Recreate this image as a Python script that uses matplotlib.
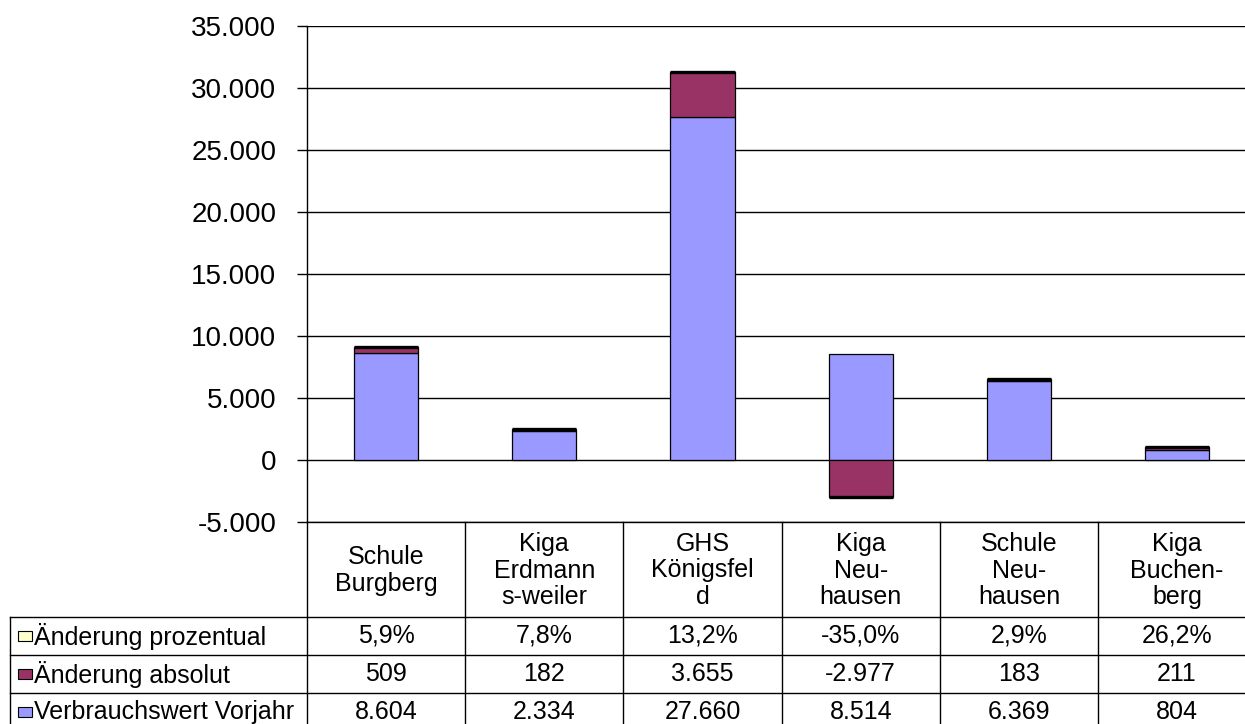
"""Verbrauch je Gebäude mit Datentabelle"""
import matplotlib
matplotlib.use("Agg")
import matplotlib.pyplot as plt
from matplotlib.patches import Rectangle
from matplotlib.ticker import FuncFormatter, MultipleLocator

plt.rcParams['font.family'] = ['Liberation Sans', 'DejaVu Sans']

categories = ["Schule\nBurgberg", "Kiga\nErdmann\ns-weiler", "GHS\nKönigsfel\nd",
              "Kiga\nNeu-\nhausen", "Schule\nNeu-\nhausen", "Kiga\nBuchen-\nberg"]
vorjahr = [8604, 2334, 27660, 8514, 6369, 804]
aenderung_abs = [509, 182, 3655, -2977, 183, 211]
aenderung_pct = [5.9, 7.8, 13.2, -35.0, 2.9, 26.2]

series_names = ["Änderung prozentual", "Änderung absolut", "Verbrauchswert Vorjahr"]
series_colors = ["#FFFFCC", "#993366", "#9999FF"]

W, H = 1245, 724
PLOT_L, PLOT_T, PLOT_B = 307, 26, 522
COL_W = 158.2
LEG_L = 10
ROW_Y = [617, 655, 693, 731]
FS = 18


def de_num(v):
    return f"{v:,.0f}".replace(",", ".")


def de_pct(v):
    return f"{v:.1f}%".replace(".", ",")


def main():
    fig = plt.figure(figsize=(W / 100, H / 100), dpi=100)

    # pixel-coordinate axes for the data table
    tab = fig.add_axes([0, 0, 1, 1])
    tab.set_xlim(0, W)
    tab.set_ylim(H, 0)
    tab.axis("off")

    ax = fig.add_axes([PLOT_L / W, 1 - PLOT_B / H,
                       6 * COL_W / W, (PLOT_B - PLOT_T) / H])
    ax.set_facecolor("none")

    xs = range(len(categories))
    # Excel-style stacking: positives upward, negatives downward
    pos = [0.0] * len(categories)
    neg = [0.0] * len(categories)
    stack = [(vorjahr, series_colors[2], 0.9),
             (aenderung_abs, series_colors[1], 0.9),
             ([p / 100 for p in aenderung_pct], series_colors[0], 2.4)]
    for vals, col, lw in stack:
        bottoms = []
        for i, v in enumerate(vals):
            if v >= 0:
                bottoms.append(pos[i])
                pos[i] += v
            else:
                bottoms.append(neg[i])
                neg[i] += v
        ax.bar(xs, vals, 0.405, bottom=bottoms, color=col,
               edgecolor="black", linewidth=lw, zorder=3)

    ax.set_xlim(-0.5, 5.5)
    ax.set_ylim(-5000, 35000)
    ax.yaxis.set_major_locator(MultipleLocator(5000))
    ax.yaxis.set_major_formatter(FuncFormatter(lambda v, _: de_num(v)))
    ax.grid(axis="y", color="black", linewidth=1.0, zorder=1)
    ax.set_xticks([])
    ax.tick_params(axis="y", length=7, width=1.0, labelsize=20, pad=15)
    for s in ["top", "right", "bottom"]:
        ax.spines[s].set_visible(False)
    ax.spines["left"].set_linewidth(1.0)

    right = PLOT_L + 6 * COL_W
    lw = 1.0
    # table grid
    tab.plot([PLOT_L, right], [PLOT_B, PLOT_B], color="black", lw=lw)
    for y in ROW_Y[:-1]:
        tab.plot([LEG_L, right], [y, y], color="black", lw=lw)
    tab.plot([LEG_L, LEG_L], [ROW_Y[0], H + 10], color="black", lw=lw)
    for i in range(7):
        x = PLOT_L + i * COL_W
        tab.plot([x, x], [PLOT_B, H + 10], color="black", lw=lw)

    # header with category names
    for i, name in enumerate(categories):
        tab.text(PLOT_L + (i + 0.5) * COL_W, (PLOT_B + ROW_Y[0]) / 2 + 1, name,
                 ha="center", va="center", fontsize=FS, linespacing=1.13,
                 multialignment="center")

    rows = [[de_pct(v) for v in aenderung_pct],
            [de_num(v) for v in aenderung_abs],
            [de_num(v) for v in vorjahr]]
    for r, (label, col, vals) in enumerate(zip(series_names, series_colors, rows)):
        yc = (ROW_Y[r] + ROW_Y[r + 1]) / 2
        tab.add_patch(Rectangle((LEG_L + 8, yc - 5), 14, 10, facecolor=col,
                                edgecolor="black", linewidth=0.8))
        tab.text(LEG_L + 24, yc, label, ha="left", va="center", fontsize=FS)
        for i, v in enumerate(vals):
            tab.text(PLOT_L + (i + 0.5) * COL_W, yc, v,
                     ha="center", va="center", fontsize=FS)

    fig.savefig("out.png", dpi=100)


if __name__ == "__main__":
    main()
